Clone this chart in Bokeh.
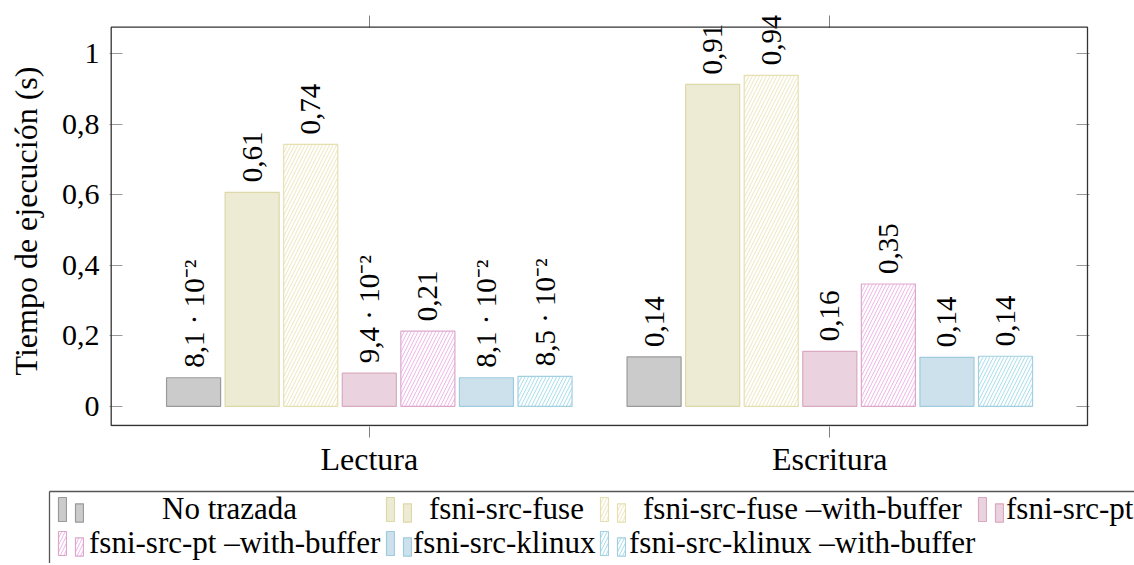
import math
from bokeh.plotting import figure
from bokeh.layouts import column
from bokeh.models import (ColumnDataSource, FixedTicker, LinearAxis, Range1d,
                          Legend, LegendItem, BoxAnnotation)
from bokeh.core.properties import value
from bokeh.embed import file_html
from bokeh.resources import INLINE

# ---------------- data ----------------
categories = ["Lectura", "Escritura"]
category_pos = [0.0, 1.0]
series_names = [
    "No trazada",
    "fsni-src-fuse",
    "fsni-src-fuse –with-buffer",
    "fsni-src-pt",
    "fsni-src-pt –with-buffer",
    "fsni-src-klinux",
    "fsni-src-klinux –with-buffer",
]
no_trazada = [0.081, 0.140]
fuse = [0.607, 0.913]
fuse_buffer = [0.743, 0.939]
pt = [0.094, 0.156]
pt_buffer = [0.213, 0.347]
klinux = [0.081, 0.139]
klinux_buffer = [0.085, 0.142]
series_values = [no_trazada, fuse, fuse_buffer, pt, pt_buffer, klinux, klinux_buffer]

y_ticks = [0.0, 0.2, 0.4, 0.6, 0.8, 1.0]
y_tick_labels = ["0", "0,2", "0,4", "0,6", "0,8", "1"]

# ---------------- styles ----------------
fill_colors = ["#cbcbcb", "#eeebd5", "#ffffff", "#ead3de", "#ffffff", "#cce1eb", "#ffffff"]
line_colors = ["#9a9a9a", "#ddd8a8", "#e6e0b0", "#d9a9bf", "#dba8cc", "#9fcbdf", "#a3cfe0"]
hatch_colors = [None, None, "#ece6bc", None, "#eeb4e6", None, "#a6dcea"]

FONT = "Liberation Serif"
BAR_PITCH = 0.1272
BAR_WIDTH = 0.1174

# frame geometry (pixels)
FW, FH = 980, 411
PX_X, PX_Y = 460.5, 352.5
X0 = -(259.8 / PX_X)
Y1 = 390.8 / PX_Y
x_start, x_end = X0, X0 + FW / PX_X
y_end, y_start = Y1, Y1 - FH / PX_Y


def fmt(v):
    if v < 0.1:
        return f"{v * 100:.1f}".replace(".", ",") + " · 10⁻²"
    return f"{v:.2f}".replace(".", ",")


def style_kw(i):
    kw = dict(fill_color=fill_colors[i], line_color=line_colors[i], line_width=1.2)
    if hatch_colors[i]:
        kw.update(hatch_pattern="/", hatch_color=hatch_colors[i], hatch_scale=7, hatch_weight=1.0)
    return kw


p = figure(frame_width=FW, frame_height=FH,
           min_border_left=109, min_border_right=45,
           min_border_top=15, min_border_bottom=62,
           x_range=Range1d(x_start, x_end), y_range=Range1d(y_start, y_end),
           output_backend="svg", toolbar_location=None,
           x_axis_location=None, y_axis_location=None)
p.frame_align = False
p.grid.visible = False
p.outline_line_color = None
p.background_fill_color = "white"
p.border_fill_color = "white"

sources = []
for i, (name, vals) in enumerate(zip(series_names, series_values)):
    xs = [c + (i - 3) * BAR_PITCH for c in category_pos]
    src = ColumnDataSource(dict(x=xs, top=vals, lab=[fmt(v) for v in vals]))
    sources.append(src)
    p.vbar(x="x", top="top", bottom=0, width=BAR_WIDTH, source=src, **style_kw(i))
    p.text(x="x", y="top", text="lab", source=src, angle=math.pi / 2,
           text_align="left", text_baseline="middle", y_offset=-10,
           text_font=value(FONT), text_font_size="29px", text_color="black")

# visible axis box
box = BoxAnnotation(left=x_start + 1.7 / PX_X, right=x_start + 978 / PX_X,
                    top=y_end - 11.7 / PX_Y, bottom=y_end - 410 / PX_Y,
                    fill_color=None, fill_alpha=0.0,
                    line_color="#333333", line_alpha=1.0, line_width=1.3)
p.add_layout(box)

tick_color = "#999999"
left = LinearAxis(ticker=FixedTicker(ticks=y_ticks),
                  major_label_overrides=dict(zip(y_ticks, y_tick_labels)),
                  axis_label="Tiempo de ejecución (s)",
                  axis_label_text_font=FONT, axis_label_text_font_size="32px",
                  axis_label_text_font_style="normal", axis_label_standoff=15,
                  axis_label_text_color="black",
                  major_label_text_font=FONT, major_label_text_font_size="30px",
                  major_label_text_color="black", major_label_standoff=10,
                  major_tick_in=13, major_tick_out=0, minor_tick_line_color=None,
                  major_tick_line_color=tick_color, axis_line_color=None)
right = LinearAxis(ticker=FixedTicker(ticks=y_ticks),
                   major_label_text_color=None, major_label_text_font_size="0px",
                   major_label_standoff=0,
                   major_tick_in=13, major_tick_out=0, minor_tick_line_color=None,
                   major_tick_line_color=tick_color, axis_line_color=None)
bottom = LinearAxis(ticker=FixedTicker(ticks=category_pos),
                    major_label_overrides=dict(zip(category_pos, categories)),
                    major_label_text_font=FONT, major_label_text_font_size="32px",
                    major_label_text_color="black", major_label_standoff=3,
                    major_tick_in=0, major_tick_out=11, minor_tick_line_color=None,
                    major_tick_line_color="#808080", axis_line_color=None)
top = LinearAxis(ticker=FixedTicker(ticks=category_pos),
                 major_label_text_color=None, major_label_text_font_size="0px",
                 major_label_standoff=0,
                 major_tick_in=12, major_tick_out=0, minor_tick_line_color=None,
                 major_tick_line_color="#808080", axis_line_color=None)
p.add_layout(left, "left")
p.add_layout(right, "right")
p.add_layout(bottom, "below")
p.add_layout(top, "above")

# ---------------- legend (separate strip below) ----------------
STRIP_H = 72
p2 = figure(frame_width=1085, frame_height=STRIP_H, min_border_left=49, min_border_right=0,
            min_border_top=3, min_border_bottom=0,
            x_range=Range1d(10, 11), y_range=Range1d(10, 11),
            output_backend="svg", toolbar_location=None,
            x_axis_location=None, y_axis_location=None)
p2.frame_align = False
p2.grid.visible = False
p2.outline_line_color = None
p2.background_fill_color = "white"
p2.border_fill_color = "white"
for side in ("left", "above"):
    ax = LinearAxis(ticker=FixedTicker(ticks=[]), major_label_text_font_size="0px",
                    major_label_standoff=0, major_tick_line_color=None,
                    minor_tick_line_color=None, axis_line_color="#555555",
                    axis_line_width=1.3)
    p2.add_layout(ax, side)

# legend layout: icon left (px from strip frame left), item top, text start
leg_icon_x = [8, 336, 550, 928, 8, 336, 550]
leg_row_top = [0, 0, 0, 0, 34, 34, 34]
leg_text_x = [114, 381, 595, 958, 41, 365, 581]
LAB_H = 36
BIG_W, BIG_H = 10, 30
SMALL_W, SMALL_H, SMALL_DX, SMALL_DY = 10, 23, 17, 3

for i, name in enumerate(series_names):
    r = p2.vbar(x="x", top="top", bottom=0, width=BAR_WIDTH, source=sources[i], **style_kw(i))
    ix, ry, tx = leg_icon_x[i], leg_row_top[i], leg_text_x[i]
    big = Legend(items=[LegendItem(label=name, renderers=[r])],
                 location=(ix, STRIP_H - ry - LAB_H),
                 glyph_width=BIG_W, glyph_height=BIG_H, label_height=LAB_H,
                 label_standoff=int(round(tx - ix - BIG_W - 1)),
                 padding=0, margin=0, spacing=0,
                 label_text_font=FONT, label_text_font_size="31px", label_text_color="black",
                 border_line_color=None, background_fill_alpha=0.0)
    small = Legend(items=[LegendItem(label="", renderers=[r])],
                   location=(ix + SMALL_DX, STRIP_H - (ry + SMALL_DY) - LAB_H),
                   glyph_width=SMALL_W, glyph_height=SMALL_H, label_height=LAB_H,
                   label_standoff=0, padding=0, margin=0, spacing=0,
                   label_text_font=FONT, label_text_font_size="31px",
                   border_line_color=None, background_fill_alpha=0.0)
    p2.add_layout(big, "center")
    p2.add_layout(small, "center")

layout = column(p, p2, spacing=0)
open("out.html", "w").write(file_html(layout, INLINE))
